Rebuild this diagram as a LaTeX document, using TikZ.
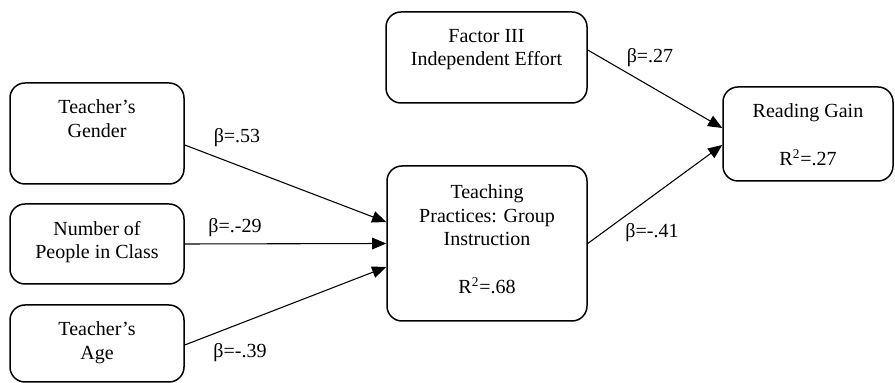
\documentclass[tikz,border=0pt]{standalone}
\usepackage{fontspec}
\setmainfont{Liberation Serif}
\usetikzlibrary{arrows.meta}

\begin{document}
\begin{tikzpicture}[x=0.6pt,y=-0.6pt,
  every node/.style={font=\fontsize{12}{14.2}\selectfont},
  box/.style={draw, line width=0.9pt, rounded corners=9pt, minimum width=104.4pt, inner sep=0pt},
  txt/.style={anchor=north, yshift=-10.5pt, align=center, inner sep=0pt},
  arr/.style={-{Triangle[length=8.5pt,width=7pt]}, line width=0.65pt},
  coef/.style={inner sep=0pt}]
\useasboundingbox (0,0) rectangle (895,383);
% predictors
\node[box, minimum height=60.6pt, label={[txt]north:Teacher's\\Gender}] (gender) at (97,133.5) {};
\node[box, minimum height=48pt, label={[txt]north:Number of\\People in Class}] (number) at (97,244) {};
\node[box, minimum height=46.2pt, label={[txt]north:Teacher's\\Age}] (age) at (97,343.5) {};
\node[box, minimum width=120.6pt, minimum height=54.6pt, label={[txt]north:Factor III\\Independent Effort}] (factor) at (486.5,57.5) {};
% mediator and outcome
\node[box, minimum width=120pt, minimum height=93pt, label={[txt,yshift=-1pt]north:Teaching\\Practices: Group\\Instruction\\[14.2pt]R\textsuperscript{2}=.68}] (teach) at (487,243.5) {};
\node[box, minimum width=102pt, minimum height=56.4pt, label={[txt,yshift=0pt]north:Reading Gain\\[14.2pt]R\textsuperscript{2}=.27}] (gain) at (808,134) {};

\draw[arr] ([yshift=-6.9pt]gender.east) -- ([yshift=12.9pt]teach.west);
\draw[arr] (number.east) -- (teach.west);
\draw[arr] ([yshift=-0.9pt]age.east) -- ([yshift=-14.1pt]teach.west);
\draw[arr] ([yshift=4.5pt]factor.east) -- ([yshift=3.6pt]gain.west);
\draw[arr] (teach.east) -- ([yshift=-6.6pt]gain.west);

\node[coef] (b1) at (237,138) {β=.53};
\node[coef] (b2) at (235,228) {β=.-29};
\node[coef] (b3) at (240,353) {β=-.39};
\node[coef] (b4) at (650,58) {β=.27};
\node[coef] (b5) at (652,233) {β=-.41};
\end{tikzpicture}
\end{document}
